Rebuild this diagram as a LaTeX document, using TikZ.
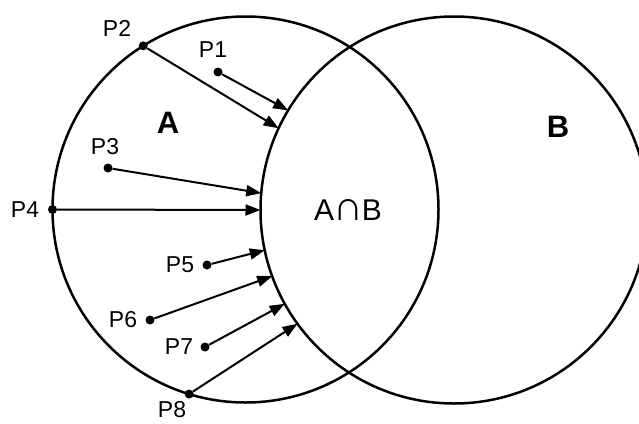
\documentclass[tikz,border=0pt]{standalone}
\usepackage{fontspec}
\usepackage{graphicx}
\setmainfont{Liberation Sans}
\usetikzlibrary{arrows.meta}
\begin{document}
\begin{tikzpicture}[x=1pt,y=-1pt,
  setc/.style={draw, circle, line width=2.5pt, minimum size=386pt, inner sep=0pt, outer sep=0pt},
  dot/.style={circle, fill, minimum size=9pt, inner sep=0pt},
  plab/.style={font=\fontsize{23}{26}\selectfont, inner sep=0pt},
  setlab/.style={font=\fontsize{31}{34}\selectfont\bfseries, inner sep=0pt},
  interlab/.style={font=\fontsize{30}{34}\selectfont, inner sep=0pt},
  arr/.style={line width=2pt, -{Triangle[length=15pt,width=11pt]}}]
\fill[white] (0,0) rectangle (639,423);
\useasboundingbox (0,0) rectangle (639,423);
\clip (0,0) rectangle (639,423);
\node[setc] (A) at (245.5,209.5) {};
\node[setc, minimum size=387pt] (B) at (454,210) {};
\node[setlab] (lA) at (168,123) {A};
\node[setlab] (lB) at (558,127) {B};
\node[interlab] (lAB) at (348,210) {A\kern-1pt\resizebox{!}{0.7em}{∩}\kern-1pt B};
% points
\node[dot] (p1) at (218,72) {};
\node[dot] (p2) at (A.122.9) {};
\node[dot] (p3) at (108,168) {};
\node[dot] (p4) at (A.180) {};
\node[dot] (p5) at (207,265) {};
\node[dot] (p6) at (150,320) {};
\node[dot] (p7) at (205,347) {};
\node[dot] (p8) at (A.253.5) {};
% labels
\node[plab] (l1) at (213,50) {P1};
\node[plab] (l2) at (117,28) {P2};
\node[plab] (l3) at (105,147) {P3};
\node[plab] (l4) at (25,210) {P4};
\node[plab] (l5) at (180,265) {P5};
\node[plab] (l6) at (123,320) {P6};
\node[plab] (l7) at (179,347) {P7};
\node[plab] (l8) at (172,410) {P8};
% arrows
\draw[arr] (p1) -- (B.149.9);
\draw[arr] (p2) -- (B.155.1);
\draw[arr] (p3) -- (B.175.6);
\draw[arr] (p4) -- (B.180);
\draw[arr] (p5) -- (B.192.3);
\draw[arr] (p6) -- (B.200.8);
\draw[arr] (p7) -- (B.209.9);
\draw[arr] (p8) -- (B.216.1);
\end{tikzpicture}
\end{document}
